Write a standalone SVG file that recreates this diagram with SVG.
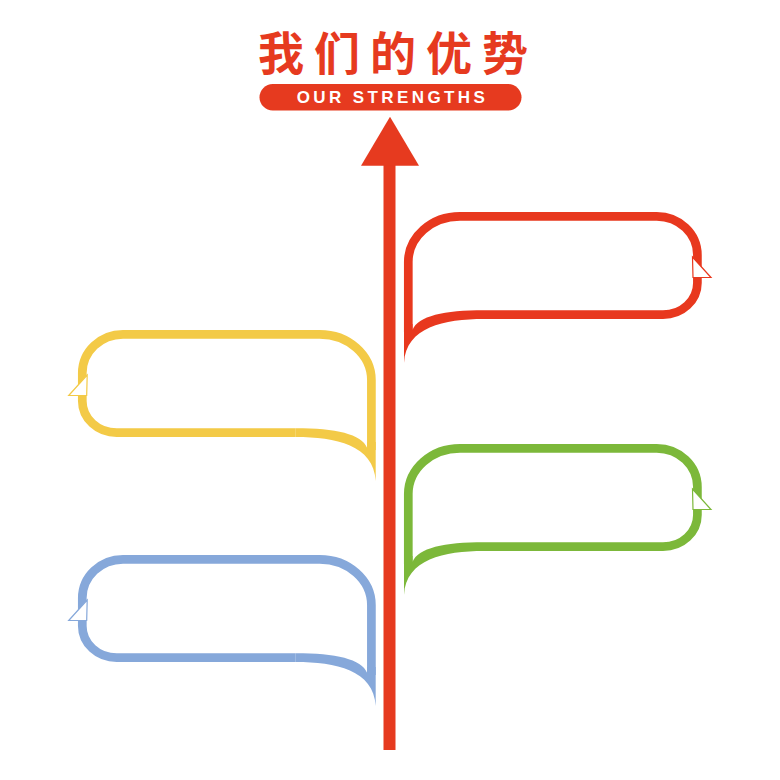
<svg xmlns="http://www.w3.org/2000/svg" width="780" height="780" viewBox="0 0 780 780">
  <style>
    .ring { fill: none; stroke-width: 8.7; stroke-linejoin: round; }
    .tail { stroke: none; }
    .notch { fill: #ffffff; stroke-width: 1.2; }
    .title { font-family: "Noto Sans CJK SC", "Noto Sans", sans-serif; font-size: 46px; font-weight: bold; fill: #E63A1F; }
    .sub { font-family: "Liberation Sans", Arial, sans-serif; font-size: 17px; font-weight: bold; fill: #ffffff; letter-spacing: 3.4px; }
  </style>

  <rect width="780" height="780" fill="#ffffff"/>

  <g id="title">
    <text class="title" x="398" y="70" text-anchor="middle" letter-spacing="10">我们的优势</text>
    <rect x="259.5" y="84" width="262" height="26.5" rx="13.25" fill="#E63A1F"/>
    <text class="sub" x="392.5" y="103.3" text-anchor="middle">OUR STRENGTHS</text>
  </g>

  <g id="connectors">
    <rect x="383.5" y="164" width="12" height="586" fill="#E63A1F"/>
    <path d="M 390,116.7 L 419,165.7 L 361,165.7 Z" fill="#E63A1F"/>
  </g>

  <g id="bubble-red" transform="translate(404,212)">
    <path class="ring" stroke="#E8381E" d="M 4.3,120 L 4.3,50 A 51.7,45.7 0 0 1 56,4.3 L 252.7,4.3 A 40.7,38.7 0 0 1 293.4,43 L 293.4,71 A 34.4,31.7 0 0 1 259,102.7 L 80,102.7"/>
    <path class="tail" fill="#E8381E" d="M 80,98.3 L 80,107 C 40,107 2,115 0,151 L 0,112 L 8.5,112 L 8.5,118 C 14,104 40,98.3 80,98.3 Z"/>
    <polygon class="notch" stroke="#E8381E" points="288.5,45 307,65.5 289,65.5"/>
  </g>

  <g id="bubble-yellow" transform="translate(375.7,330) scale(-1,1)">
    <path class="ring" stroke="#F3CA47" d="M 4.3,120 L 4.3,50 A 51.7,45.7 0 0 1 56,4.3 L 252.7,4.3 A 40.7,38.7 0 0 1 293.4,43 L 293.4,71 A 34.4,31.7 0 0 1 259,102.7 L 80,102.7"/>
    <path class="tail" fill="#F3CA47" d="M 80,98.3 L 80,107 C 40,107 2,115 0,151 L 0,112 L 8.5,112 L 8.5,118 C 14,104 40,98.3 80,98.3 Z"/>
    <polygon class="notch" stroke="#F3CA47" points="288.5,45 307,65.5 289,65.5"/>
  </g>

  <g id="bubble-green" transform="translate(404,444)">
    <path class="ring" stroke="#7CB83A" d="M 4.3,120 L 4.3,50 A 51.7,45.7 0 0 1 56,4.3 L 252.7,4.3 A 40.7,38.7 0 0 1 293.4,43 L 293.4,71 A 34.4,31.7 0 0 1 259,102.7 L 80,102.7"/>
    <path class="tail" fill="#7CB83A" d="M 80,98.3 L 80,107 C 40,107 2,115 0,151 L 0,112 L 8.5,112 L 8.5,118 C 14,104 40,98.3 80,98.3 Z"/>
    <polygon class="notch" stroke="#7CB83A" points="288.5,45 307,65.5 289,65.5"/>
  </g>

  <g id="bubble-blue" transform="translate(375.7,555) scale(-1,1)">
    <path class="ring" stroke="#86A8DA" d="M 4.3,120 L 4.3,50 A 51.7,45.7 0 0 1 56,4.3 L 252.7,4.3 A 40.7,38.7 0 0 1 293.4,43 L 293.4,71 A 34.4,31.7 0 0 1 259,102.7 L 80,102.7"/>
    <path class="tail" fill="#86A8DA" d="M 80,98.3 L 80,107 C 40,107 2,115 0,151 L 0,112 L 8.5,112 L 8.5,118 C 14,104 40,98.3 80,98.3 Z"/>
    <polygon class="notch" stroke="#86A8DA" points="288.5,45 307,65.5 289,65.5"/>
  </g>
</svg>
